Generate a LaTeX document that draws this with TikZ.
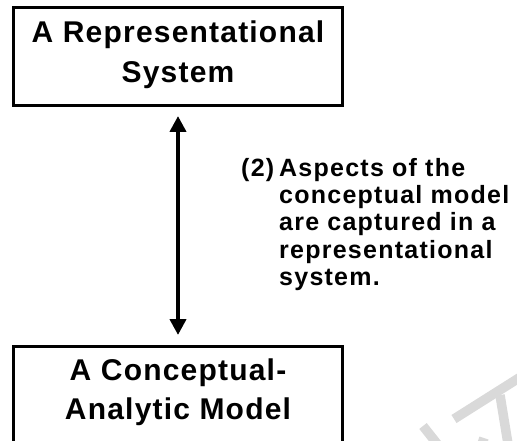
\documentclass[tikz,border=0pt]{standalone}
\usepackage{fontspec}
\setmainfont{Liberation Sans}
\newfontfamily\labelfamily{Liberation Sans}[LetterSpace=4]
\newfontfamily\notefamily{Liberation Sans}[LetterSpace=5]
\newcommand\headtext{\labelfamily\bfseries\fontsize{30}{39.5}\selectfont}
\newcommand\notetext{\notefamily\bfseries\fontsize{25}{27.5}\selectfont}
\usetikzlibrary{arrows.meta}
\definecolor{markgray}{gray}{0.85}
\begin{document}
\begin{tikzpicture}[x=1pt,y=-1pt,
  boxnode/.style={draw, line width=3pt, inner sep=0pt, anchor=north},
  link/.style={line width=4.5pt,
    {Triangle[width=16pt,length=16pt]}-{Triangle[width=16pt,length=16pt]}},
  faintstroke/.style={line width=9.5pt, markgray}]
  \useasboundingbox (0,0) rectangle (517,441);
  \clip (0,0) rectangle (517,441);

  % faint background lettering
  \draw[faintstroke] (454,419) -- (530,371);
  \draw[faintstroke] (500,395) -- (509,450);
  \draw[faintstroke] (423,426) -- (442,450);
  \draw[faintstroke] (484,438) -- (480,450);

  % the two boxes
  \node[boxnode] (rep) at (178,6)
    {\parbox[c][98pt][t]{329pt}{\centering\headtext
      \rule{0pt}{35.5pt}A Representational\\System}};
  \node[boxnode] (cam) at (178,344.5)
    {\parbox[c][130pt][t]{329pt}{\centering\headtext
      \rule{0pt}{34pt}A Conceptual-\\Analytic Model}};

  % two-way link between them
  \draw[link, shorten <=9pt, shorten >=9.5pt] (rep.south) -- (cam.north);

  % note beside the link, with a hanging indent after the number
  \node[anchor=base west, inner sep=0pt] (note) at (241,176)
    {\notetext\begin{tabular}[t]{@{}p{38pt}@{}l@{}}
      (2) & Aspects of the\\
          & conceptual model\\
          & are captured in a\\
          & representational\\
          & system.
    \end{tabular}};
\end{tikzpicture}
\end{document}
